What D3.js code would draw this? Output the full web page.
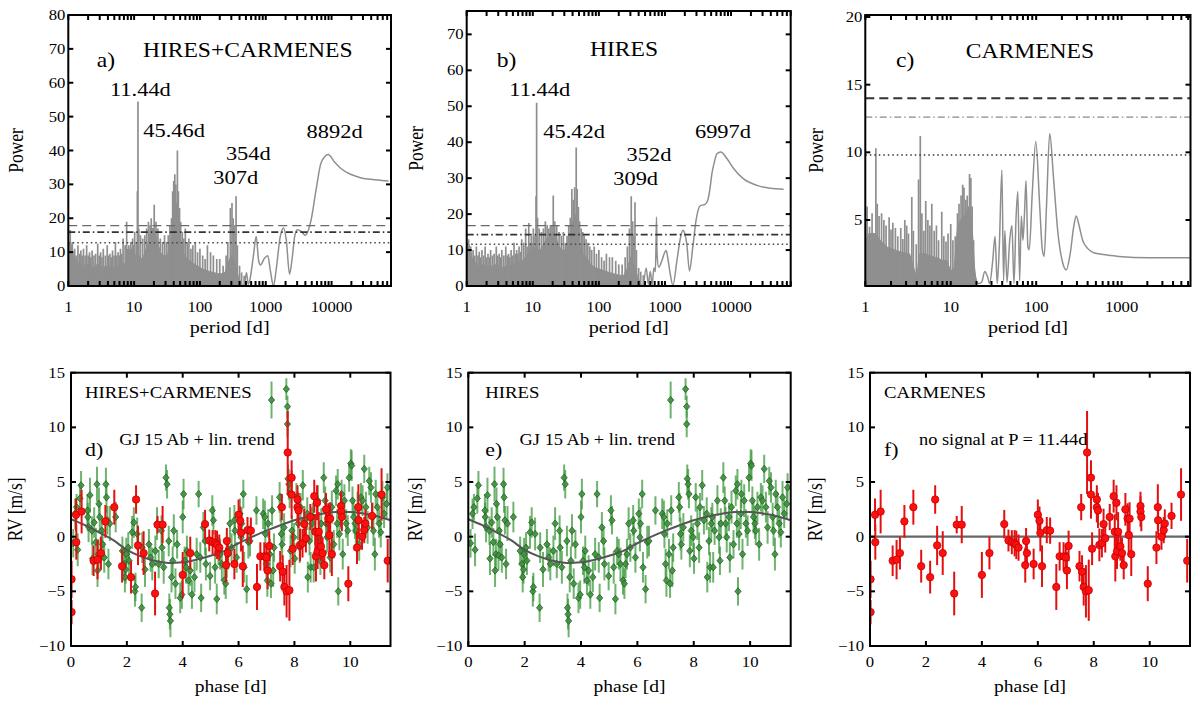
<!DOCTYPE html>
<html><head><meta charset="utf-8">
<script src="https://cdn.jsdelivr.net/npm/d3@7"></script>
<style>
body{margin:0;background:#fff;}
svg{display:block;font-family:"Liberation Serif","Times New Roman",serif;}
</style></head><body>
<svg id="fig" width="1200" height="705"></svg>
<script>
// ---------------- DATA ----------------
// Periodogram a) HIRES+CARMENES : dense noise floor [period, power], spikes [period, power], smooth long-period part
const envA = [[1.0,11],[1.05,13],[1.12,12],[1.2,9],[1.35,6.5],[1.5,7],[1.7,6],[2.0,6.5],[2.4,5.5],[2.8,6.5],[3.3,5.5],[4,6],[5,5.5],[6,6],[7,6.5],[8,7.5],[9,7],[10,8],[11,10],[12,9],[13,8],[14,9],[16,12],[18,17],[20,17],[22,14],[25,10],[28,9],[32,9],[36,13],[39,20],[42,25],[45,24],[48,18],[52,12],[58,9],[65,8],[75,7],[90,6],[110,5],[130,4.5],[160,4],[200,3.5],[240,4],[270,7],[300,9],[340,7],[380,3],[420,1],[450,0]];
const spikesA = [[1.03,13],[1.07,16.5],[1.15,13],[1.25,11],[1.32,9],[1.4,12],[1.48,9.5],[1.55,10.5],[1.62,9],[1.7,11],[1.8,9],[1.9,12],[2.0,9],[2.1,10],[2.2,8.5],[2.3,10.5],[2.45,9],[2.6,9.5],[2.8,12.5],[2.95,9],[3.1,10],[3.25,8.5],[3.4,11],[3.65,9],[3.9,12],[4.1,9],[4.3,9.5],[4.5,8.5],[4.7,10.5],[4.95,9],[5.2,13],[5.45,9],[5.7,10],[5.95,9],[6.2,11],[6.5,9.5],[6.8,14],[7.3,12],[7.7,19],[8.0,11],[8.3,12],[8.6,11],[8.9,13],[9.2,11],[9.5,14],[9.85,12],[10.2,16],[10.8,13],[11.2,28],[11.44,54.5],[11.8,17],[12.5,15],[13.5,14],[14.5,15],[15.5,17],[16.5,19],[17.5,18],[18.2,20],[19.2,17],[20.2,24],[21.5,19],[23,17],[25,14],[27,13],[29,15],[31,13],[33,15],[35,18],[37,20],[38.5,28],[40,31],[41.5,33],[43,30],[45.46,40],[47,28],[49,23],[51,19],[54,16],[57,14],[60,17],[64,13],[68,14],[73,11],[78,12],[85,13],[92,10],[100,11],[110,9],[120,8],[130,12],[145,10],[160,9],[180,8],[200,8],[225,6],[250,9],[265,13],[290,23],[307,24.5],[320,20],[340,18],[354,26.5],[370,12],[400,6],[430,4],[470,3]];
const smoothA = [[480,0.5],[510,4],[540,0.5],[569,1.5],[646,8.6],[716,14.6],[778,7.6],[832,6.2],[956,8.2],[1073,8.9],[1180,4.3],[1310,0],[1440,4.8],[1660,14.6],[1870,17.1],[2050,13.6],[2300,3.5],[2500,7.6],[2750,14.6],[3010,16.6],[3460,16.1],[3980,15.0],[4470,16.6],[4900,19.6],[5830,28.5],[6940,36.4],[8892,38.8],[11100,36.6],[14000,34.6],[19900,32.9],[28200,31.9],[44800,31.4],[73400,31.0]];
const faLevelsA = [17.8, 15.9, 12.8];   // dashed, dash-dot, dotted
const peakLabelsA = [["11.44d",4.3,56.2],["45.46d",13.8,43.9],["354d",248,37.2],["307d",160,30.0],["8892d",4170,43.8]];

// Periodogram b) HIRES
const envB = [[1.0,11],[1.05,12],[1.12,11],[1.2,8],[1.35,6.5],[1.5,5.5],[1.7,6],[2.0,5.5],[2.4,5.5],[2.8,6],[3.3,5],[4,5.5],[5,6],[6,6.5],[7,7],[8,8.5],[9,9.5],[10,9.5],[11,11],[12,10],[13,10],[14,11],[16,13],[18,14],[20,15],[22,14],[25,11],[28,10],[32,10],[36,14],[39,17],[42,19],[45,20],[48,15],[52,11],[58,9],[65,8],[75,6],[90,5],[110,4.5],[130,4],[160,3.5],[200,3],[240,3],[270,5],[300,8],[340,6],[380,3],[420,1],[450,0]];
const spikesB = [[1.03,12],[1.07,13],[1.15,11],[1.25,10],[1.32,8.5],[1.4,11],[1.48,8.5],[1.55,9.5],[1.62,8],[1.7,10],[1.8,8.5],[1.9,11],[2.0,8],[2.1,9],[2.2,8],[2.3,10],[2.45,8.5],[2.6,9],[2.8,11],[2.95,8.5],[3.1,9],[3.25,8],[3.4,10],[3.65,8.5],[3.9,11],[4.1,8.5],[4.3,9],[4.5,8],[4.7,10],[4.95,8.5],[5.2,12],[5.45,9],[5.7,10],[5.95,9],[6.2,11],[6.5,9.5],[6.8,13],[7.3,12],[7.8,16],[8.2,11],[8.7,17.5],[9.1,12],[9.5,14],[9.85,12],[10.2,16],[10.8,14],[11.2,25],[11.44,51],[11.8,19],[12.5,16],[13.5,15],[14.5,16],[15.5,18],[16.5,17],[17.5,16],[18.5,17],[19.5,16.7],[20.4,25.2],[21.5,18],[23,17],[25,15],[27,14],[29,15],[31,12],[33,14],[35,17],[37,19],[39,27],[41,24],[43,27.5],[45.42,38.5],[47,27],[49,22],[51,18],[54,16],[57,15],[60,14],[64,13],[68,12],[73,11],[78,10],[85,11],[92,9],[100,10],[110,8],[120,7],[130,9],[145,8],[160,8],[180,7],[200,6],[225,6],[250,8],[270,11],[290,16],[309,25],[325,18],[340,14],[352,23.3],[370,10],[400,5],[430,4],[470,3]];
const smoothB = [[480,1],[520,5],[560,0.5],[600,4],[640,0.3],[680,5],[715,4],[730,10],[745,19.2],[760,9],[804,5.2],[900,7.1],[1000,9.5],[1047,9.9],[1100,8],[1180,4.3],[1320,0.2],[1520,7.1],[1700,13],[1870,15.5],[2000,14.5],[2140,11.7],[2350,4.2],[2640,10.8],[2960,18.3],[3400,22.3],[4040,22.7],[4420,23.7],[4800,27],[5130,31.2],[5600,34.5],[6120,36.8],[6997,37.3],[8710,35.4],[11000,32.6],[15500,29.8],[24700,28.0],[39100,27.2],[62400,26.9]];
const faLevelsB = [16.8, 14.3, 11.6];
const peakLabelsB = [["11.44d",4.41,52.9],["45.42d",14.4,41.3],["352d",263,34.7],["309d",165,28.2],["6997d",2844,41.3]];

// Periodogram c) CARMENES
const envC = [[1.0,3.5],[1.1,4],[1.3,4],[1.5,3.5],[1.8,3],[2.2,2.8],[2.7,2.6],[3.3,2.5],[3.8,1.2],[4.0,0.8],[4.3,2.5],[5,2.5],[6,2.3],[7,2.2],[8,2],[9,2],[10,1.2],[11,1.5],[12,4.5],[13,5],[14,5.2],[15,5.5],[16,6],[17,5.5],[18,4],[19,1.5],[20,0.3]];
const spikesC = [[1.05,6],[1.12,4.5],[1.2,5.5],[1.33,10.3],[1.38,6.2],[1.45,5.3],[1.55,5.5],[1.65,5],[1.75,4.6],[1.9,5.2],[2.0,4.3],[2.1,4.8],[2.25,4.4],[2.4,3.8],[2.6,4.4],[2.75,3.6],[2.9,5],[3.05,4.6],[3.2,4],[3.5,6.7],[3.65,4.2],[3.95,3.2],[4.2,8],[4.4,11.2],[4.6,5.5],[4.85,4.2],[5.1,6.4],[5.4,5],[5.7,4.6],[6.0,6.2],[6.4,4.2],[6.8,4.6],[7.2,3.5],[7.85,5.6],[8.3,3.8],[8.8,3.4],[9.3,4.0],[10,4.7],[10.6,3.5],[11.3,3.8],[12,5.5],[12.5,6.2],[13.2,6.8],[13.8,7.6],[14.3,7.4],[15,6.5],[15.6,6.8],[16.6,8.4],[17.2,8.1],[17.8,6.0],[18.5,3.5]];
const smoothC = [[19,1.0],[21,0.3],[23,0.4],[25,1.2],[27,0.8],[28.5,0.3],[31,2.0],[33,3.8],[35,0.3],[37,3],[39.7,8.7],[41.5,0.5],[43,4.2],[45.5,0.4],[49,3.5],[52,4.6],[55,0.3],[58,5.0],[61,7.1],[64,0.5],[67,5.3],[70,3.5],[73,5.5],[76,7.9],[80,3.0],[83,2.8],[90,7.0],[99,10.8],[110,6.0],[118,2.8],[124,2.3],[132,6],[144,11.4],[160,8],[180,4],[205,1.8],[225,1.3],[250,2.5],[275,4.5],[294,5.3],[320,4.5],[350,3.5],[400,2.9],[460,2.6],[537,2.5],[700,2.4],[923,2.3],[2070,2.2],[6400,2.2]];
const faLevelsC = [14.0, 12.6, 9.8];

const logTicksABLabels = [1,10,100,1000,10000];
const logTicksCLabels = [1,10,100,1000];
const powerTicksA = [0,10,20,30,40,50,60,70,80];
const powerTicksB = [0,10,20,30,40,50,60,70];
const powerTicksC = [5,10,15,20];
const phaseTicks = [0,2,4,6,8,10];
const rvTicks = [-10,-5,0,5,10,15];

// Phase-folded RVs [phase d, RV m/s, error m/s]
const hiresRV = [
[0.08,-0.6,1.3],[0.15,2.1,1.4],[0.2,2.7,1.2],[0.24,-1.2,1.5],[0.32,3.5,1.4],[0.36,4.7,1.3],
[0.59,2.4,1.5],[0.6,1.8,1.3],[0.63,0.9,1.4],[0.68,3.8,1.6],[0.75,0.55,1.3],[0.77,-2.0,1.5],
[0.83,1.3,1.4],[0.89,-0.5,1.3],[0.93,4.8,1.6],[0.95,-3.1,1.5],[0.98,-1.6,1.4],[1.0,3.0,1.5],
[1.03,1.8,1.3],[1.07,-1.7,1.4],[1.1,0.55,1.3],[1.13,-0.7,1.5],[1.19,-1.9,1.4],[1.25,4.8,1.5],
[1.27,3.6,1.4],[1.3,1.5,1.3],[1.34,-2.5,1.4],[1.39,1.2,1.6],[1.6,1.8,1.4],[1.84,-1.3,1.3],
[1.9,-2.5,1.5],[1.93,-3.7,1.4],[1.96,-3.0,1.3],[1.98,-1.6,1.5],
[2.05,-1.0,1.4],[2.08,-2.2,1.3],[2.19,0.4,1.5],[2.25,1.3,1.4],[2.29,-5.0,1.4],[2.31,-4.6,1.3],
[2.37,0.25,1.5],[2.53,-6.5,1.3],[2.55,-1.0,1.4],[2.65,-3.0,1.6],[2.79,-0.7,1.4],[2.85,-1.9,1.3],[2.91,-2.5,1.5],
[3.02,-1.3,1.4],[3.08,1.2,1.5],[3.14,-2.5,1.3],[3.24,0.55,1.4],[3.26,-1.0,1.3],[3.32,-2.8,1.5],
[3.4,5.4,1.2],[3.44,4.8,1.3],[3.5,-0.4,1.4],[3.52,-6.5,1.3],[3.54,-7.1,1.4],[3.56,-7.7,1.5],
[3.6,-3.7,1.4],[3.64,-2.2,1.3],[3.68,0.55,1.5],[3.74,-4.3,1.4],[3.8,-0.7,1.3],[3.91,-5.6,1.4],
[3.97,-5.3,1.3],[4.0,1.8,1.5],
[4.03,3.9,1.4],[4.07,-2.2,1.3],[4.12,-2.8,1.5],[4.15,-1.3,1.4],[4.21,-4.0,1.3],[4.27,-3.1,1.4],
[4.33,-5.3,1.3],[4.42,-3.7,1.4],[4.5,-1.6,1.5],[4.57,3.9,1.2],[4.63,-1.9,1.4],[4.66,-5.6,1.3],
[4.74,0.85,1.4],[4.8,-0.4,1.3],[4.83,-2.5,1.5],
[4.98,-3.6,1.3],[5.06,2.4,1.4],[5.1,1.5,1.3],[5.16,-2.8,1.5],[5.22,-5.7,1.4],[5.28,-1.3,1.3],
[5.34,-1.6,1.4],[5.4,-2.5,1.5],[5.49,-4.0,1.3],[5.54,-4.3,1.4],[5.58,-2.5,1.3],[5.63,-1.6,1.4],
[5.69,1.2,1.5],[5.75,-1.0,1.3],[5.85,1.5,1.4],[5.87,0.55,1.3],[5.93,-1.9,1.4],
[6.05,2.1,1.4],[6.09,-0.05,1.3],[6.11,1.2,1.5],[6.17,3.9,1.3],[6.2,-2.8,1.4],[6.29,-4.8,1.3],
[6.35,-0.5,1.5],[6.41,-0.4,1.4],[6.64,2.4,1.3],[6.88,2.1,1.4],[6.94,1.8,1.5],[6.96,0.25,1.3],
[7.0,-2.5,1.4],[7.03,-4.0,1.5],
[7.06,1.2,1.3],[7.12,-1.6,1.4],[7.16,-4.3,1.3],[7.18,12.5,1.7],[7.2,2.4,1.4],[7.24,-3.1,1.5],
[7.27,-1.0,1.3],[7.47,3.6,1.4],[7.5,2.7,1.3],[7.53,0.25,1.5],[7.56,-0.7,1.4],[7.63,0.85,1.3],
[7.71,13.5,1.0],[7.75,11.9,1.0],[7.75,10.3,1.2],[7.77,5.3,1.3],[7.8,4.8,1.4],[7.83,3.9,1.3],
[7.86,-1.3,1.5],[7.91,0.55,1.4],[7.98,-0.05,1.3],
[8.01,-2.0,1.4],[8.07,3.6,1.3],[8.13,1.2,1.5],[8.19,-1.0,1.4],[8.22,2.7,1.3],[8.3,4.7,1.4],
[8.36,1.5,1.3],[8.46,2.1,1.5],[8.48,-3.7,1.4],[8.54,-0.4,1.3],[8.58,-2.8,1.4],[8.62,1.2,1.5],
[8.66,1.8,1.3],[8.69,-2.8,1.4],[8.74,0.55,1.3],[8.84,3.3,1.4],[8.9,-0.05,1.5],[8.93,-2.2,1.3],[8.96,1.2,1.4],
[9.05,5.4,1.4],[9.1,3.3,1.3],[9.13,1.2,1.5],[9.17,-0.05,1.4],[9.25,1.8,1.3],[9.28,-1.9,1.4],
[9.34,2.7,1.5],[9.41,-0.7,1.3],[9.49,4.2,1.4],[9.53,1.2,1.3],[9.55,4.8,1.4],[9.57,-5.0,1.3],
[9.61,0.25,1.5],[9.67,2.1,1.4],[9.69,3.9,1.3],[9.73,-1.6,1.4],[9.79,3.3,1.5],[9.85,1.2,1.3],
[9.91,0.55,1.4],[9.96,5.4,1.3],
[10.02,6.7,1.3],[10.05,6.5,1.4],[10.08,3.3,1.3],[10.12,1.8,1.5],[10.17,1.2,1.4],[10.2,0.55,1.3],
[10.26,2.7,1.4],[10.32,-0.7,1.5],[10.38,3.6,1.3],[10.44,3.3,1.4],[10.5,6.2,1.3],[10.56,2.7,1.4],
[10.62,0.85,1.5],[10.68,5.1,1.3],[10.74,4.5,1.4],[10.8,1.8,1.3],[10.83,0.55,1.4],[10.88,-1.6,1.5],
[10.91,3.9,1.3],[10.97,2.7,1.4],[11.03,1.2,1.3],[11.09,0.4,1.4],[11.15,3.6,1.5],[11.21,2.1,1.3],
[11.3,3.0,1.4],[11.33,4.5,1.3]
];
const carmenesRV = [
[0.02,-3.9,1.7],[0.02,-6.9,1.1],[0.18,2.0,1.5],[0.19,-0.5,1.6],[0.38,2.3,2.0],[0.81,-2.2,1.4],[0.95,-2.1,1.8],[1.07,-1.5,1.5],[1.23,1.4,1.5],[1.55,2.7,1.6],[1.83,-2.7,1.5],[2.15,-3.7,1.5],[2.33,3.4,1.3],[2.4,-0.8,1.8],[2.6,-1.5,2.0],[3.01,-5.2,2.0],[3.1,1.1,0.8],[3.28,1.1,1.7],[4.0,-3.5,2.1],[4.27,-1.5,1.5],[4.8,1.15,1.3],[4.95,-0.35,1.0],[5.07,-0.5,1.1],[5.17,-0.6,1.2],[5.23,-0.75,1.3],[5.31,-1.0,1.2],[5.55,-2.6,1.6],[5.58,-0.4,1.2],[5.61,-1.5,1.4],[5.85,-2.5,1.4],[6.0,2.0,1.4],[6.06,1.45,1.3],[6.09,0.35,1.7],[6.15,-2.7,1.9],[6.32,0.6,1.2],[6.44,0.55,1.2],[6.66,-4.6,2.1],[6.78,-1.8,1.3],[6.92,-1.8,1.3],[7.0,-1.9,1.2],[7.04,-3.1,1.7],[7.1,-0.85,1.4],[7.49,-2.7,1.4],[7.55,2.7,1.2],[7.58,-3.2,1.5],[7.64,-4.6,1.7],[7.72,-5.0,2.4],[7.76,7.7,3.8],[7.82,-4.9,2.8],[7.9,5.4,1.6],[7.9,3.85,2.2],[7.94,-1.1,1.5],[8.11,3.4,1.3],[8.11,2.7,1.4],[8.15,2.4,1.6],[8.2,-0.75,1.5],[8.29,-0.6,1.3],[8.35,1.15,1.4],[8.41,-0.15,1.3],[8.57,1.8,1.2],[8.71,3.7,1.5],[8.75,0.45,1.6],[8.77,-1.8,2.3],[8.81,3.1,1.6],[8.83,-1.35,1.6],[8.87,0.45,1.8],[8.95,-0.9,1.3],[9.01,-1.5,1.4],[9.07,-2.6,1.3],[9.13,2.5,1.5],[9.21,1.65,1.4],[9.25,0.15,1.6],[9.28,1.65,1.5],[9.34,-1.6,2.0],[9.67,2.8,1.3],[9.67,2.3,1.4],[9.7,1.8,1.3],[9.93,-4.3,1.6],[10.24,-1.0,1.5],[10.29,2.7,2.1],[10.3,1.5,1.3],[10.42,0.0,1.2],[10.5,0.6,1.2],[10.54,1.2,1.3],[10.78,1.9,1.2],[11.12,3.85,2.4],[11.34,-2.2,2.0]
];
// Keplerian model GJ 15 Ab + linear trend [phase, RV]
const modelCurve = [[0,1.6],[0.5,1.05],[1,0.4],[1.5,-0.3],[2,-1.2],[2.5,-1.8],[3,-2.2],[3.5,-2.4],[4,-2.35],[4.5,-2.1],[5,-1.75],[5.5,-1.3],[6,-0.6],[6.5,0.0],[7,0.55],[7.5,1.05],[8,1.5],[8.5,1.85],[9,2.1],[9.5,2.25],[10,2.25],[10.5,2.1],[11,1.85],[11.44,1.5]];

// ---------------- DRAWING ----------------
const SX = 1.15;      // the reference text is slightly wide
const svg = d3.select("#fig");
const defs = svg.append("defs");
const GRAY = "#8f8f8f";

function label(parent, x, y, s, size, anchor, rot) {
  const g = parent.append("g").attr("transform", `translate(${x},${y}) scale(${SX},1)` + (rot ? ` rotate(${rot})` : ""));
  g.append("text").attr("font-size", size).attr("text-anchor", anchor || "start").attr("fill", "#000").text(s);
  return g;
}

let clipN = 0;
function clipFor(box) {
  const id = "clip" + (clipN++);
  defs.append("clipPath").attr("id", id).append("rect")
    .attr("x", box.l).attr("y", box.t).attr("width", box.r - box.l).attr("height", box.b - box.t);
  return "url(#" + id + ")";
}

function frame(g, box, xs, ys, xTickVals, xLabelVals, yTickVals, yLabelVals, opts) {
  const tl = 5;
  const tk = g.append("g").attr("stroke", "#000").attr("stroke-width", 2);
  xTickVals.forEach(v => {
    const px = xs(v);
    if (px < box.l - 0.5 || px > box.r + 0.5) return;
    tk.append("line").attr("x1", px).attr("x2", px).attr("y1", box.b).attr("y2", box.b - tl);
    tk.append("line").attr("x1", px).attr("x2", px).attr("y1", box.t).attr("y2", box.t + tl);
  });
  yTickVals.forEach(v => {
    const py = ys(v);
    tk.append("line").attr("x1", box.l).attr("x2", box.l + tl).attr("y1", py).attr("y2", py);
    tk.append("line").attr("x1", box.r).attr("x2", box.r - tl).attr("y1", py).attr("y2", py);
  });
  xLabelVals.forEach(v => label(g, xs(v), box.b + opts.xlOff, opts.fmtX(v), 14.5, "middle"));
  yLabelVals.forEach(v => label(g, box.l - opts.ylOff, ys(v) + 5, opts.fmtY(v), 14.5, "end"));
  g.append("rect").attr("x", box.l).attr("y", box.t).attr("width", box.r - box.l).attr("height", box.b - box.t)
    .attr("fill", "none").attr("stroke", "#000").attr("stroke-width", 2);
}

function periodogram(cfg) {
  const box = cfg.box;
  const g = svg.append("g");
  const x = d3.scaleLog().domain(cfg.xDomain).range([box.l, box.r]);
  const y = d3.scaleLinear().domain(cfg.yDomain).range([box.b, box.t]);
  const plot = g.append("g").attr("clip-path", clipFor(box));
  const base = y(0);
  plot.append("path").datum(cfg.env)
    .attr("d", d3.area().x(d => x(d[0])).y0(base).y1(d => y(d[1])))
    .attr("fill", GRAY).attr("stroke", GRAY).attr("stroke-width", 1);
  plot.append("g").selectAll("line").data(cfg.spikes).join("line")
    .attr("x1", d => x(d[0])).attr("x2", d => x(d[0]))
    .attr("y1", base).attr("y2", d => y(d[1]))
    .attr("stroke", GRAY).attr("stroke-width", 1.7);
  plot.append("path").datum(cfg.smooth)
    .attr("d", d3.line().x(d => x(d[0])).y(d => y(d[1])).curve(d3.curveMonotoneX))
    .attr("fill", "none").attr("stroke", GRAY).attr("stroke-width", 1.5);
  // false-alarm levels
  const styles = cfg.faStyles;
  cfg.fa.forEach((lv, i) => {
    plot.append("line").attr("x1", box.l).attr("x2", box.r).attr("y1", y(lv)).attr("y2", y(lv))
      .attr("stroke", styles[i].c).attr("stroke-width", styles[i].w).attr("stroke-dasharray", styles[i].d);
  });
  // ticks
  const allTicks = x.ticks();
  frame(g, box, x, y, allTicks, cfg.xLabels, cfg.yTicks, cfg.yTicks,
    {xlOff: 25.5, ylOff: 3, fmtX: v => String(v), fmtY: v => String(v)});
  label(g, (box.l + box.r) / 2, 333, "period [d]", 17.5, "middle");
  label(g, cfg.ylabX, (box.t + box.b) / 2, "Power", 17.5, "middle", -90);
  // annotations
  label(g, x(cfg.title[1]), y(cfg.title[2]), cfg.title[0], 20.5, "start");
  label(g, x(cfg.panel[1]), y(cfg.panel[2]), cfg.panel[0], 20.5, "start");
  (cfg.peaks || []).forEach(p => label(g, x(p[1]), y(p[2]), p[0], 19.5, "start"));
}

const faStyleAB = [{c:"#6a6a6a", w:1.2, d:"9,5"}, {c:"#333", w:1.8, d:"7,3,1.5,3"}, {c:"#444", w:1.5, d:"1.5,3"}];
const faStyleC = [{c:"#333", w:2, d:"9,5"}, {c:"#8a8a8a", w:1.1, d:"7,3,1.5,3"}, {c:"#333", w:1.6, d:"1.5,3"}];

periodogram({box:{l:68.3, r:391, t:15, b:286}, xDomain:[1,80000], yDomain:[0,80],
  env:envA, spikes:spikesA, smooth:smoothA, fa:faLevelsA, faStyles:faStyleAB,
  xLabels:logTicksABLabels, yTicks:powerTicksA, ylabX:23,
  title:["HIRES+CARMENES",13.6,67.6], panel:["a)",2.7,64.7], peaks:peakLabelsA});
periodogram({box:{l:466.7, r:790.7, t:11, b:286}, xDomain:[1,80000], yDomain:[0,76.5],
  env:envB, spikes:spikesB, smooth:smoothB, fa:faLevelsB, faStyles:faStyleAB,
  xLabels:logTicksABLabels, yTicks:powerTicksB, ylabX:423,
  title:["HIRES",73.3,63.9], panel:["b)",2.84,60.9], peaks:peakLabelsB});
periodogram({box:{l:865.3, r:1190.5, t:15, b:286}, xDomain:[1,6400], yDomain:[0.12,20.15],
  env:envC, spikes:spikesC, smooth:smoothC, fa:faLevelsC, faStyles:faStyleC,
  xLabels:logTicksCLabels, yTicks:powerTicksC, ylabX:823,
  title:["CARMENES",15.0,17.0], panel:["c)",2.29,16.3], peaks:[]});

function rvPanel(cfg) {
  const box = cfg.box;
  const g = svg.append("g");
  const x = d3.scaleLinear().domain([0, 11.44]).range([box.l, box.r]);
  const y = d3.scaleLinear().domain([-10, 15]).range([box.b, box.t]);
  const plot = g.append("g").attr("clip-path", clipFor(box));
  const diamond = "M0,-3.6L3.1,0L0,3.6L-3.1,0Z";
  if (cfg.green) {
    plot.append("g").selectAll("line").data(cfg.green).join("line")
      .attr("x1", d => x(d[0])).attr("x2", d => x(d[0]))
      .attr("y1", d => y(d[1] - d[2])).attr("y2", d => y(d[1] + d[2]))
      .attr("stroke", "#3d9a3d").attr("stroke-opacity", 0.75).attr("stroke-width", 2);
    plot.append("g").selectAll("path").data(cfg.green).join("path")
      .attr("transform", d => `translate(${x(d[0])},${y(d[1])})`).attr("d", diamond)
      .attr("fill", "#3f8f3f").attr("fill-opacity", 0.9).attr("stroke", "#1f5f1f").attr("stroke-width", 0.8);
  }
  if (cfg.model) {
    plot.append("path").datum(modelCurve)
      .attr("d", d3.line().x(d => x(d[0])).y(d => y(d[1])).curve(d3.curveMonotoneX))
      .attr("fill", "none").attr("stroke", "#555").attr("stroke-width", 2);
  }
  if (cfg.zeroLine) {
    plot.append("line").attr("x1", box.l).attr("x2", box.r).attr("y1", y(0)).attr("y2", y(0))
      .attr("stroke", "#666").attr("stroke-width", 2.2);
  }
  if (cfg.red) {
    plot.append("g").selectAll("line").data(cfg.red).join("line")
      .attr("x1", d => x(d[0])).attr("x2", d => x(d[0]))
      .attr("y1", d => y(d[1] - d[2])).attr("y2", d => y(d[1] + d[2]))
      .attr("stroke", "#e41010").attr("stroke-width", 2);
    plot.append("g").selectAll("circle").data(cfg.red).join("circle")
      .attr("cx", d => x(d[0])).attr("cy", d => y(d[1])).attr("r", 3.7)
      .attr("fill", "#ff1010").attr("stroke", "#c00000").attr("stroke-width", 0.8);
  }
  frame(g, box, x, y, phaseTicks, phaseTicks, rvTicks, rvTicks,
    {xlOff: 21, ylOff: 6, fmtX: v => String(v), fmtY: v => (v < 0 ? "\u2212" + Math.abs(v) : String(v))});
  label(g, (box.l + box.r) / 2, 692, "phase [d]", 17, "middle");
  label(g, cfg.ylabX, (box.t + box.b) / 2, "RV [m/s]", 17.5, "middle", -90);
  label(g, x(cfg.title[1]), y(cfg.title[2]), cfg.title[0], 16.3, "start");
  label(g, x(cfg.sub[1]), y(cfg.sub[2]), cfg.sub[0], 16, "start");
  label(g, x(cfg.panel[1]), y(cfg.panel[2]), cfg.panel[0], 19, "start");
}

rvPanel({box:{l:71, r:390.5, t:372.7, b:646}, green:hiresRV, red:carmenesRV, model:true, ylabX:22,
  title:["HIRES+CARMENES",0.5,12.66], sub:["GJ 15 Ab + lin. trend",1.73,8.4], panel:["d)",0.5,7.4]});
rvPanel({box:{l:468.3, r:790.7, t:372.7, b:646}, green:hiresRV, model:true, ylabX:422,
  title:["HIRES",0.6,12.66], sub:["GJ 15 Ab + lin. trend",1.82,8.4], panel:["e)",0.6,7.4]});
rvPanel({box:{l:870, r:1190, t:372.7, b:646}, red:carmenesRV, zeroLine:true, ylabX:822,
  title:["CARMENES",0.5,12.66], sub:["no signal at P = 11.44d",1.75,8.4], panel:["f)",0.5,7.4]});
</script>
</body></html>
